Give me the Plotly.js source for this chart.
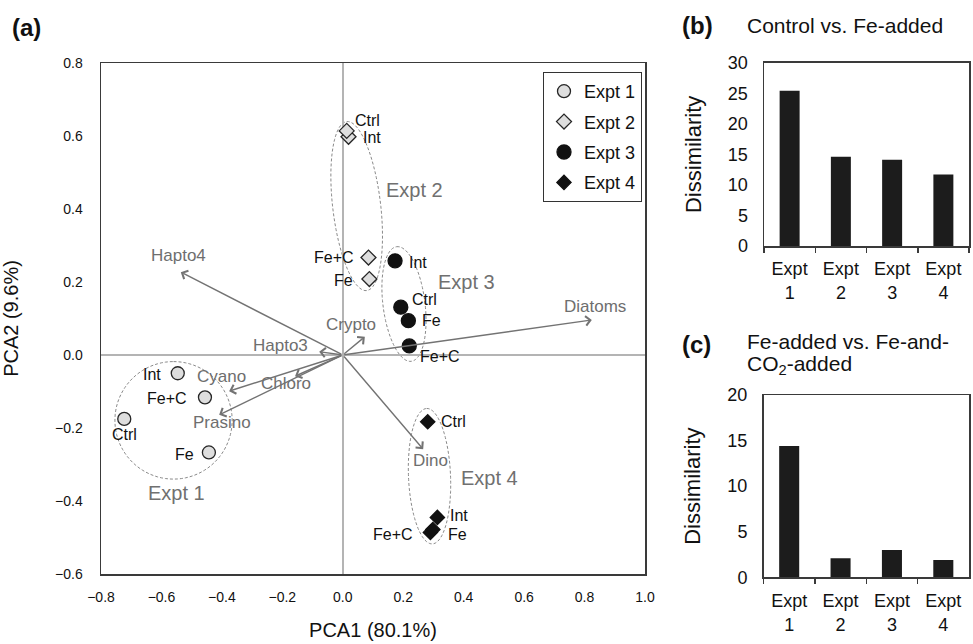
<!DOCTYPE html>
<html><head><meta charset="utf-8">
<script src="https://cdn.plot.ly/plotly-3.0.1.min.js"></script>
<style>html,body{margin:0;padding:0;background:#fff;} #chart{width:973px;height:644px;}</style>
</head><body><div id="chart"></div>
<script>
// ---- PCA scores ----
const treatments1 = ["Int", "Fe+C", "Ctrl", "Fe"];
const pc1_expt1 = [-0.546, -0.456, -0.723, -0.443];
const pc2_expt1 = [-0.050, -0.116, -0.175, -0.267];

const treatments2 = ["Int", "Ctrl", "Fe+C", "Fe"];
const pc1_expt2 = [0.019, 0.013, 0.085, 0.088];
const pc2_expt2 = [0.598, 0.614, 0.267, 0.208];

const treatments3 = ["Int", "Ctrl", "Fe", "Fe+C"];
const pc1_expt3 = [0.173, 0.192, 0.217, 0.220];
const pc2_expt3 = [0.258, 0.131, 0.094, 0.025];

const treatments4 = ["Ctrl", "Int", "Fe+C", "Fe"];
const pc1_expt4 = [0.281, 0.313, 0.290, 0.298];
const pc2_expt4 = [-0.183, -0.445, -0.486, -0.478];

// ---- pigment-group loadings ----
const pigmentGroups = ["Diatoms", "Hapto4", "Crypto", "Hapto3", "Chloro", "Cyano", "Prasino", "Dino"];
const loadingPC1 = [0.824, -0.536, 0.073, -0.078, -0.158, -0.376, -0.409, 0.266];
const loadingPC2 = [0.096, 0.227, 0.050, 0.009, -0.058, -0.099, -0.164, -0.258];

// ---- group ellipses (data units: centre and two conjugate semi-axes) ----
const groupNames = ["Expt 1", "Expt 2", "Expt 3", "Expt 4"];
const ellipseCx = [-0.560, 0.046, 0.2025, 0.287];
const ellipseCy = [-0.179, 0.408, 0.1397, -0.332];
const ellipseUx = [0.0, -0.033, -0.0242, -0.0093];
const ellipseUy = [0.161, 0.2315, 0.157, 0.1855];
const ellipseVx = [0.194, 0.0788, 0.0689, 0.0695];
const ellipseVy = [0.0, 0.0077, 0.0073, 0.0024];
const groupLabelX = [-0.551, 0.236, 0.408, 0.487];
const groupLabelY = [-0.379, 0.452, 0.201, -0.336];

// ---- dissimilarity bar panels ----
const barCategories = ["Expt<br>1", "Expt<br>2", "Expt<br>3", "Expt<br>4"];
const dissimCtrlVsFe = [25.4, 14.6, 14.1, 11.7];
const dissimFeVsFeCO2 = [14.4, 2.1, 3.0, 1.9];

// ================= styling / layout =================
const FONT = '"Liberation Sans", Arial, sans-serif';
const W = 973, H = 644;
const px = (v) => v / W;
const py = (v) => 1 - v / H;

// label placement for each point: [xanchor, xshift, yshift]
const labelPlacement = [
  {"Int": ["right", -15, -1], "Fe+C": ["right", -16, -1], "Ctrl": ["center", 0, -16], "Fe": ["right", -13, -2]},
  {"Int": ["left", 12, -1], "Ctrl": ["left", 6, 10], "Fe+C": ["right", -12, 0], "Fe": ["right", -14, -1]},
  {"Int": ["left", 12, -2], "Ctrl": ["left", 9, 8], "Fe": ["left", 12, 0], "Fe+C": ["left", 9, -11]},
  {"Ctrl": ["left", 11, 0], "Int": ["left", 11, 2], "Fe+C": ["right", -15, -2], "Fe": ["left", 13, -5]}
];
// loading label placement: [xanchor, xshift, yshift]
const loadingLabelPlacement = {
  "Diatoms": ["center", 3, 13], "Hapto4": ["center", -2, 17], "Crypto": ["center", -14, 12],
  "Hapto3": ["right", -9, 6], "Chloro": ["center", -9, -7], "Cyano": ["center", -8, 15],
  "Prasino": ["center", 3, -8], "Dino": ["center", 7, -11]
};

const groups = [
  {name: groupNames[0], t: treatments1, x: pc1_expt1, y: pc2_expt1, symbol: "circle", size: 13, fill: "#dedede", line: "#262626"},
  {name: groupNames[1], t: treatments2, x: pc1_expt2, y: pc2_expt2, symbol: "diamond", size: 11.5, fill: "#dedede", line: "#262626"},
  {name: groupNames[2], t: treatments3, x: pc1_expt3, y: pc2_expt3, symbol: "circle", size: 14, fill: "#111111", line: "#111111"},
  {name: groupNames[3], t: treatments4, x: pc1_expt4, y: pc2_expt4, symbol: "diamond", size: 11, fill: "#111111", line: "#111111"}
];

const traces = groups.map((g, i) => ({
  type: "scatter", mode: "markers", x: g.x, y: g.y, xaxis: "x", yaxis: "y",
  name: g.name, legendgroup: "g" + i, text: g.t, hoverinfo: "text+x+y",
  marker: {symbol: g.symbol, size: g.size, color: g.fill, line: {color: g.line, width: 1.3}}
}));

traces.push({
  type: "bar", x: barCategories, y: dissimCtrlVsFe, xaxis: "x2", yaxis: "y2",
  marker: {color: "#1c1c1c"}, showlegend: false
});
traces.push({
  type: "bar", x: barCategories, y: dissimFeVsFeCO2, xaxis: "x3", yaxis: "y3",
  marker: {color: "#1c1c1c"}, showlegend: false
});

const annotations = [];
// point labels
groups.forEach((g, i) => {
  g.t.forEach((lab, j) => {
    const p = labelPlacement[i][lab];
    annotations.push({
      xref: "x", yref: "y", x: g.x[j], y: g.y[j], text: lab, showarrow: false,
      xanchor: p[0], yanchor: "middle", xshift: p[1], yshift: p[2],
      font: {family: FONT, size: 16, color: "#111"}
    });
  });
});
// loading arrows and labels
pigmentGroups.forEach((name, k) => {
  annotations.push({
    xref: "x", yref: "y", axref: "x", ayref: "y",
    x: loadingPC1[k], y: loadingPC2[k], ax: 0, ay: 0, text: "",
    showarrow: true, arrowhead: 4, arrowsize: 1.3, arrowwidth: 1.4, arrowcolor: "#737373",
    standoff: 0, startstandoff: 0
  });
  const p = loadingLabelPlacement[name];
  annotations.push({
    xref: "x", yref: "y", x: loadingPC1[k], y: loadingPC2[k], text: name, showarrow: false,
    xanchor: p[0], yanchor: "middle", xshift: p[1], yshift: p[2],
    font: {family: FONT, size: 17, color: "#6e6e6e"}
  });
});
// group labels
groupNames.forEach((n, i) => {
  annotations.push({
    xref: "x", yref: "y", x: groupLabelX[i], y: groupLabelY[i], text: n, showarrow: false,
    xanchor: "center", yanchor: "middle", font: {family: FONT, size: 20, color: "#707070"}
  });
});
// panel letters & titles
const txt = (x, y, text, size, opts) => Object.assign({
  xref: "paper", yref: "paper", x: px(x), y: py(y), text: text, showarrow: false,
  xanchor: "left", yanchor: "middle", font: {family: FONT, size: size, color: "#111"}
}, opts || {});
annotations.push(txt(10, 28, "<b>(a)</b>", 24));
annotations.push(txt(680, 25, "<b>(b)</b>", 24));
annotations.push(txt(745, 25, "Control vs. Fe-added", 21));
annotations.push(txt(680, 344, "<b>(c)</b>", 24));
annotations.push(txt(745, 342, "Fe-added vs. Fe-and-", 21));
annotations.push(txt(745, 365, "CO<sub>2</sub>-added", 21));

// ellipses as paths
function ellipsePath(i) {
  let d = "";
  for (let k = 0; k <= 90; k++) {
    const t = 2 * Math.PI * k / 90;
    const x = ellipseCx[i] + ellipseUx[i] * Math.cos(t) + ellipseVx[i] * Math.sin(t);
    const y = ellipseCy[i] + ellipseUy[i] * Math.cos(t) + ellipseVy[i] * Math.sin(t);
    d += (k ? "L" : "M") + x.toFixed(5) + "," + y.toFixed(5);
  }
  return d + "Z";
}
const shapes = groupNames.map((n, i) => ({
  type: "path", xref: "x", yref: "y", path: ellipsePath(i), layer: "below",
  line: {color: "#8a8a8a", width: 1, dash: "3px,2px"}
}));

const axisFrame = {showline: true, mirror: true, linecolor: "#3a3a3a", linewidth: 1.5, showgrid: false};

const layout = {
  width: W, height: H,
  margin: {l: 0, r: 0, t: 0, b: 0},
  paper_bgcolor: "#fff", plot_bgcolor: "#fff",
  font: {family: FONT, color: "#111"},
  showlegend: true,
  legend: {
    x: px(543), y: py(72), xanchor: "left", yanchor: "top",
    bordercolor: "#333", borderwidth: 1, bgcolor: "#fff",
    font: {family: FONT, size: 18, color: "#111"}, tracegroupgap: 4, itemwidth: 30
  },
  bargap: 0.61,
  xaxis: Object.assign({}, axisFrame, {
    domain: [px(101), px(645)], anchor: "y", range: [-0.8, 1.0], tick0: -0.8, dtick: 0.2,
    tickformat: ".1f", ticks: "", zeroline: true, zerolinecolor: "#b4b4b4", zerolinewidth: 1.5,
    tickfont: {family: FONT, size: 14}, ticklabelstandoff: 10,
    title: {text: "PCA1 (80.1%)", font: {family: FONT, size: 20}, standoff: 18}
  }),
  yaxis: Object.assign({}, axisFrame, {
    domain: [py(574), py(63)], anchor: "x", range: [-0.6, 0.8], tick0: -0.6, dtick: 0.2,
    tickformat: ".1f", ticks: "", zeroline: true, zerolinecolor: "#b4b4b4", zerolinewidth: 1.5,
    tickfont: {family: FONT, size: 14}, ticklabelstandoff: 14,
    title: {text: "PCA2 (9.6%)", font: {family: FONT, size: 20}, standoff: 33}
  }),
  xaxis2: Object.assign({}, axisFrame, {
    domain: [px(764), px(969)], anchor: "y2", type: "category",
    ticks: "outside", tickson: "boundaries", ticklen: 5, tickcolor: "#3a3a3a", tickwidth: 1.5,
    tickfont: {family: FONT, size: 18}, ticklabelstandoff: 6
  }),
  yaxis2: Object.assign({}, axisFrame, {
    domain: [py(246), py(62.7)], anchor: "x2", range: [0, 30], dtick: 5, ticks: "", zeroline: false,
    tickfont: {family: FONT, size: 18}, ticklabelstandoff: 11,
    title: {text: "Dissimilarity", font: {family: FONT, size: 22}, standoff: 20}
  }),
  xaxis3: Object.assign({}, axisFrame, {
    domain: [px(763.5), px(969)], anchor: "y3", type: "category",
    ticks: "outside", tickson: "boundaries", ticklen: 5, tickcolor: "#3a3a3a", tickwidth: 1.5,
    tickfont: {family: FONT, size: 18}, ticklabelstandoff: 7
  }),
  yaxis3: Object.assign({}, axisFrame, {
    domain: [py(577.3), py(395)], anchor: "x3", range: [0, 20], dtick: 5, ticks: "", zeroline: false,
    tickfont: {family: FONT, size: 18}, ticklabelstandoff: 11,
    title: {text: "Dissimilarity", font: {family: FONT, size: 22}, standoff: 20}
  }),
  annotations: annotations,
  shapes: shapes
};

Plotly.newPlot("chart", traces, layout, {staticPlot: true, displayModeBar: false});
</script>
</body></html>
